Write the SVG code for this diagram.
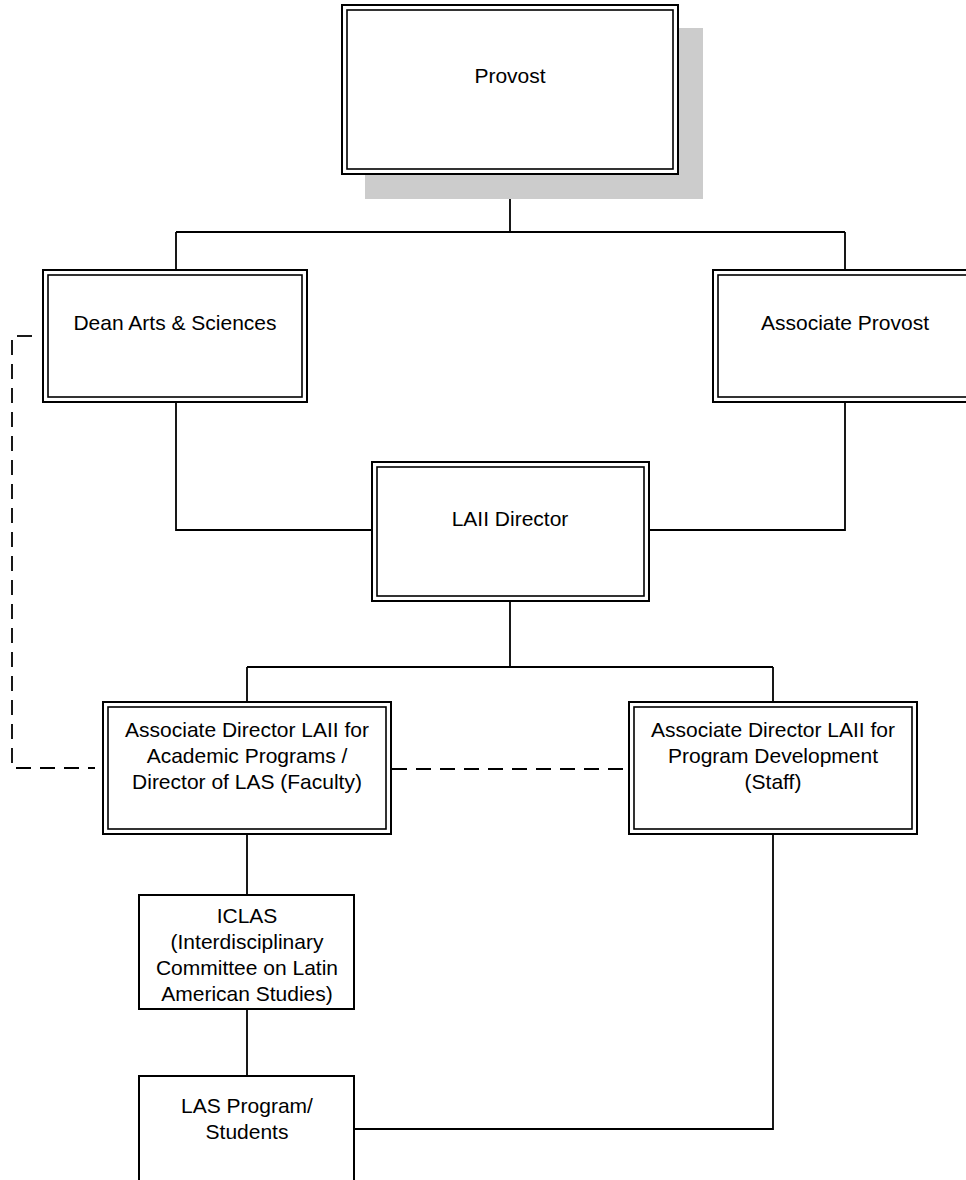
<svg xmlns="http://www.w3.org/2000/svg" width="966" height="1180" viewBox="0 0 966 1180">
<style>
.bg{fill:#ffffff}
.outer{fill:#ffffff;stroke:#000;stroke-width:2}
.inner{fill:none;stroke:#000;stroke-width:1.6}
.single{fill:#ffffff;stroke:#000;stroke-width:2}
.shadow{fill:#cccccc}
.t{font-family:"Liberation Sans",Arial,sans-serif;font-size:21px;fill:#000;text-anchor:middle}
.conn{fill:none;stroke:#000;stroke-width:1.8}
.dash{fill:none;stroke:#000;stroke-width:1.8;stroke-dasharray:15 9}
</style>
<rect class="bg" x="0" y="0" width="966" height="1180"/>
<g id="connectors">
<path class="conn" d="M510 174 V232 M176 232 H845 M176 232 V270 M845 232 V270"/>
<path class="conn" d="M176 402 V530 H372 M845 402 V530 H649"/>
<path class="conn" d="M510 601 V667 M247 667 H773 M247 667 V702 M773 667 V702"/>
<path class="conn" d="M247 834 V895 M247 1009 V1076"/>
<path class="conn" d="M773 834 V1129 H354"/>
<path class="dash" d="M16 768 H95"/>
<path class="dash" d="M12 763 V340"/>
<path class="dash" d="M17 336 H32"/>
<path class="dash" d="M392 769 H629"/>
</g>
<g id="provost">
<rect class="shadow" x="365" y="28" width="338" height="171"/>
<rect class="outer" x="342" y="5" width="336" height="169"/>
<rect class="inner" x="347" y="10" width="326" height="159"/>
<text class="t" x="510" y="83">Provost</text>
</g>
<g id="dean">
<rect class="outer" x="43" y="270" width="264" height="132"/>
<rect class="inner" x="48" y="275" width="254" height="122"/>
<text class="t" x="175" y="330">Dean Arts &amp; Sciences</text>
</g>
<g id="assoc-provost">
<rect class="outer" x="713" y="270" width="264" height="132"/>
<rect class="inner" x="718" y="275" width="254" height="122"/>
<text class="t" x="845" y="330">Associate Provost</text>
</g>
<g id="laii-director">
<rect class="outer" x="372" y="462" width="277" height="139"/>
<rect class="inner" x="377" y="467" width="267" height="129"/>
<text class="t" x="510" y="526">LAII Director</text>
</g>
<g id="assoc-dir-academic">
<rect class="outer" x="103" y="702" width="288" height="132"/>
<rect class="inner" x="108" y="707" width="278" height="122"/>
<text class="t" x="247" y="737">Associate Director LAII for</text>
<text class="t" x="247" y="763">Academic Programs /</text>
<text class="t" x="247" y="789">Director of LAS (Faculty)</text>
</g>
<g id="assoc-dir-program">
<rect class="outer" x="629" y="702" width="288" height="132"/>
<rect class="inner" x="634" y="707" width="278" height="122"/>
<text class="t" x="773" y="737">Associate Director LAII  for</text>
<text class="t" x="773" y="763">Program Development</text>
<text class="t" x="773" y="789">(Staff)</text>
</g>
<g id="iclas">
<rect class="single" x="139" y="895" width="215" height="114"/>
<text class="t" x="247" y="923">ICLAS</text>
<text class="t" x="247" y="949">(Interdisciplinary</text>
<text class="t" x="247" y="975">Committee on Latin</text>
<text class="t" x="247" y="1001">American Studies)</text>
</g>
<g id="las-program">
<rect class="single" x="139" y="1076" width="215" height="130"/>
<text class="t" x="247" y="1113">LAS Program/</text>
<text class="t" x="247" y="1139">Students</text>
</g>
</svg>
